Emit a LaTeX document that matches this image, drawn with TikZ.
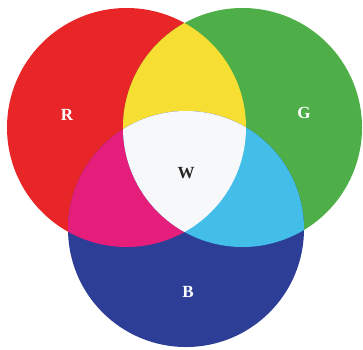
\documentclass[tikz,border=0pt]{standalone}
\usepackage{fontspec}
\setmainfont{Liberation Serif}
\usetikzlibrary{positioning}

\definecolor{lightred}{RGB}{232,38,40}
\definecolor{lightgreen}{RGB}{78,175,72}
\definecolor{lightblue}{RGB}{44,62,150}
\definecolor{mixyellow}{RGB}{247,222,50}
\definecolor{mixmagenta}{RGB}{228,30,122}
\definecolor{mixcyan}{RGB}{66,190,232}
\definecolor{mixwhite}{RGB}{246,248,250}

\begin{document}
\begin{tikzpicture}[x=1pt, y=-1pt, every node/.style={font=\bfseries\fontsize{17}{17}\selectfont}]
    \useasboundingbox (0,0) rectangle (363,349);
    \coordinate (r) at (126.5,127.5);
    \coordinate (g) at (242.5,127.5);
    \coordinate (b) at (186,229);
    % primary circles
    \fill[lightred] (r) circle (119.5pt);
    \fill[lightgreen] (g) circle (119.5pt);
    \fill[lightblue] (b) circle (118pt);
    % overlaps
    \begin{scope}
        \clip (r) circle (119.5pt);
        \fill[mixyellow] (g) circle (119.5pt);
        \fill[mixmagenta] (b) circle (118pt);
    \end{scope}
    \begin{scope}
        \clip (g) circle (119.5pt);
        \fill[mixcyan] (b) circle (118pt);
        \clip (r) circle (119.5pt);
        \fill[mixwhite] (b) circle (118pt);
    \end{scope}
    % labels
    \node[text=white] (labr) at (67,115) {R};
    \node[text=white] (labg) at (304,113) {G};
    \node[text=black!85] (labw) at (186,173) {W};
    \node[text=white] (labb) at (188,292) {B};
\end{tikzpicture}
\end{document}
